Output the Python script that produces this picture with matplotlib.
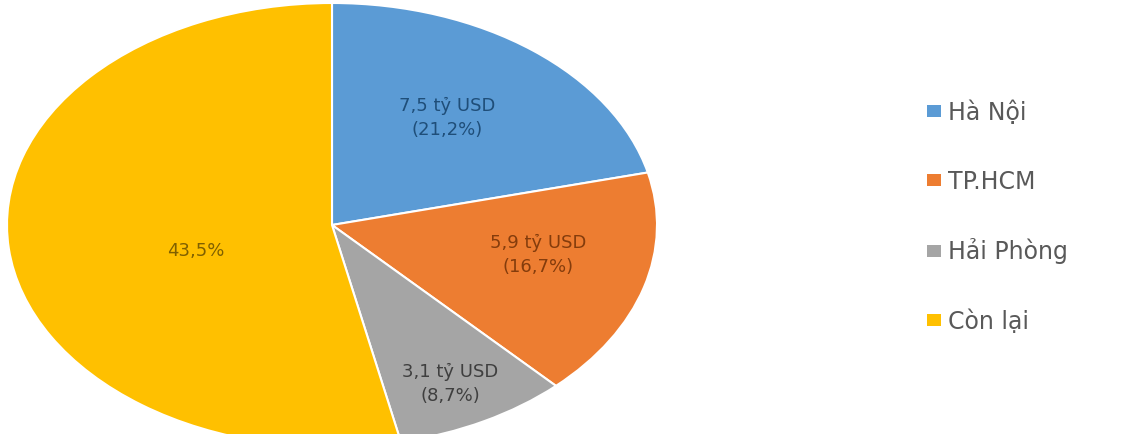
import matplotlib as mpl
import matplotlib.pyplot as plt
from matplotlib.patches import Patch

# data (slice sizes follow the drawn geometry)
regions = ['Hà Nội', 'TP.HCM', 'Hải Phòng', 'Còn lại']
shares = [21.2, 16.7, 8.7, 53.4]
slice_labels = ['7,5 tỷ USD\n(21,2%)', '5,9 tỷ USD\n(16,7%)', '3,1 tỷ USD\n(8,7%)', '43,5%']
colors = ['#5B9BD5', '#ED7D31', '#A5A5A5', '#FFC000']
text_colors = ['#1F4E79', '#843C0C', '#3F3F3F', '#7F6000']

mpl.rc('font', family='DejaVu Sans')

fig = plt.figure(figsize=(11.37, 4.34), dpi=100)
# image is stretched sideways, so the pie is an ellipse that runs off the bottom
ax = fig.add_axes([7 / 1137, -13 / 434, 650 / 1137, 444 / 434])

wedges, _ = ax.pie(shares, colors=colors, startangle=90, counterclock=False,
                   wedgeprops=dict(edgecolor='white', linewidth=1.5))
ax.set_aspect('auto')
ax.set_xlim(-1, 1)
ax.set_ylim(-1, 1)

# label spots (in pie units)
label_pos = [(0.354, 0.482), (0.634, -0.135), (0.363, -0.716), (-0.418, -0.117)]
for (x, y), txt, c in zip(label_pos, slice_labels, text_colors):
    ax.text(x, y, txt, ha='center', va='center', fontsize=13, color=c,
            linespacing=1.45)

handles = [Patch(facecolor=c, edgecolor='none') for c in colors]
fig.legend(handles, regions, loc='center left', bbox_to_anchor=(915 / 1137, 1 - 217 / 434),
           frameon=False, fontsize=17, labelcolor='#595959', handlelength=0.6,
           handleheight=0.4, handletextpad=0.3, labelspacing=1.9, borderpad=0)

fig.savefig('out.png', dpi=100)
